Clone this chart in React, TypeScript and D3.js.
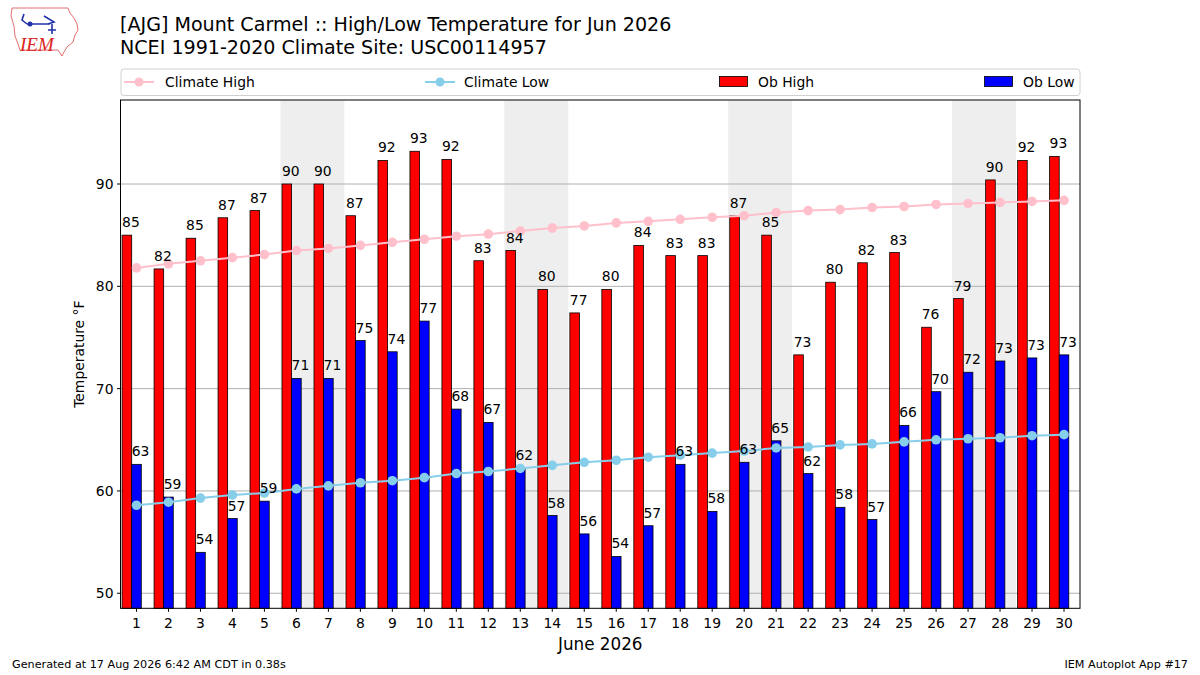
import React, { useEffect } from 'react';
import { scaleLinear, line, range } from 'd3';

const days = range(1, 31);
const obHigh = [85.0, 81.7, 84.7, 86.7, 87.4, 90.0, 90.0, 86.9, 92.3, 93.2, 92.4, 82.5, 83.5, 79.7, 77.4, 79.7, 84.0, 83.0, 83.0, 86.9, 85.0, 73.3, 80.4, 82.3, 83.3, 76.0, 78.8, 90.4, 92.3, 92.7];
const obLow = [62.6, 59.4, 54.0, 57.3, 59.0, 71.0, 71.0, 74.7, 73.6, 76.6, 68.0, 66.7, 62.2, 57.6, 55.8, 53.6, 56.6, 62.6, 58.0, 62.8, 64.9, 61.7, 58.4, 57.2, 66.4, 69.7, 71.6, 72.7, 73.0, 73.3];
const climateHigh = [81.8, 82.2, 82.5, 82.8, 83.1, 83.5, 83.7, 84.0, 84.3, 84.6, 84.9, 85.1, 85.4, 85.7, 85.9, 86.2, 86.35, 86.55, 86.75, 86.9, 87.2, 87.4, 87.5, 87.7, 87.8, 88.0, 88.1, 88.2, 88.3, 88.4];
const climateLow = [58.6, 58.9, 59.3, 59.6, 59.8, 60.2, 60.5, 60.8, 61.0, 61.3, 61.7, 61.9, 62.2, 62.5, 62.8, 63.0, 63.3, 63.5, 63.7, 63.9, 64.2, 64.3, 64.5, 64.6, 64.8, 65.0, 65.1, 65.2, 65.4, 65.5];
const saturdays = [6, 13, 20, 27];
const yTicks = [50, 60, 70, 80, 90];

const W = 1200;
const H = 675;
const left = 120.5;
const right = 1080;
const top = 100;
const bottom = 608.3;
const font = 'DejaVu Sans, sans-serif';
const fs = 13.9;

const App: React.FC = () => {
  useEffect(() => {
    document.body.style.margin = '0';
  }, []);

  const x = scaleLinear().domain([0.5, 30.5]).range([left, right]);
  const y = scaleLinear().domain([48.53, 98.21]).range([bottom, top]);
  const bw = x(0.3) - x(0);

  const lineGen = line<number>()
    .x((_, i) => x(days[i]))
    .y(d => y(d));

  return (
    <svg width={W} height={H} style={{ display: 'block', fontFamily: font }}>
      <rect width={W} height={H} fill="#fff" />

      {/* logo */}
      <g>
        <path
          d="M12,8 L68,8 L70,13 L74,18 L77,24 L78,30 L75,35 L73,42 L67,47 L64,52 L62,56 L58,50 L20,50 L18,44 L15,36 L14,26 L11,16 Z"
          fill="none" stroke="#e07070" strokeWidth={1} />
        <path d="M24,14 L22,20 L27,24 M27,24 L50,24 M44,16 L54,22 L48,24 M52,24 L52,34 M48,30 L56,30"
          fill="none" stroke="#2233aa" strokeWidth={1.6} />
        <circle cx={30} cy={24} r={2.5} fill="#2233aa" />
        <text x={20} y={51} fontFamily="Liberation Serif, serif" fontStyle="italic" fontSize={19} fill="#dd2222">IEM</text>
      </g>

      {/* titles */}
      <text x={120} y={31} fontSize={19.1} fill="#000">[AJG] Mount Carmel :: High/Low Temperature for Jun 2026</text>
      <text x={120} y={54} fontSize={19.1} fill="#000">NCEI 1991-2020 Climate Site: USC00114957</text>

      {/* legend */}
      <rect x={121} y={69} width={959} height={26.5} rx={3} fill="#fff" stroke="#d0d0d0" />
      <line x1={124} x2={154} y1={82} y2={82} stroke="pink" strokeWidth={2} />
      <circle cx={139} cy={82} r={4.5} fill="pink" />
      <text x={165} y={87} fontSize={fs}>Climate High</text>
      <line x1={425} x2={455} y1={82} y2={82} stroke="skyblue" strokeWidth={2} />
      <circle cx={440} cy={82} r={4.5} fill="skyblue" />
      <text x={464} y={87} fontSize={fs}>Climate Low</text>
      <rect x={719.5} y={76.5} width={28} height={10} fill="red" stroke="#000" strokeWidth={0.8} />
      <text x={758} y={87} fontSize={fs}>Ob High</text>
      <rect x={984.5} y={76.5} width={28} height={10} fill="blue" stroke="#000" strokeWidth={0.8} />
      <text x={1023} y={87} fontSize={fs}>Ob Low</text>

      {/* weekend shading */}
      {saturdays.map(d => (
        <rect key={d} x={x(d - 0.5)} y={top} width={x(d + 1.5) - x(d - 0.5)} height={bottom - top} fill="#eeeeee" />
      ))}

      {/* grid */}
      {yTicks.map(t => (
        <line key={t} x1={left} x2={right} y1={y(t)} y2={y(t)} stroke="#b0b0b0" strokeWidth={1} />
      ))}

      {/* bars */}
      {days.map((d, i) => (
        <g key={d}>
          <rect x={x(d - 0.45)} y={y(obHigh[i])} width={bw} height={bottom - y(obHigh[i])}
            fill="red" stroke="#000" strokeWidth={0.8} />
          <rect x={x(d - 0.15)} y={y(obLow[i])} width={bw} height={bottom - y(obLow[i])}
            fill="blue" stroke="#000" strokeWidth={0.8} />
        </g>
      ))}

      {/* climate lines */}
      <path d={lineGen(climateHigh) || ''} fill="none" stroke="pink" strokeWidth={2} />
      {climateHigh.map((v, i) => (
        <circle key={'ch' + i} cx={x(days[i])} cy={y(v)} r={4.8} fill="pink" />
      ))}
      <path d={lineGen(climateLow) || ''} fill="none" stroke="skyblue" strokeWidth={2} />
      {climateLow.map((v, i) => (
        <circle key={'cl' + i} cx={x(days[i])} cy={y(v)} r={4.8} fill="skyblue" />
      ))}

      {/* value labels */}
      {days.map((d, i) => (
        <g key={'lab' + d} fontSize={fs} fill="#000">
          <text x={x(d - 0.45)} y={y(obHigh[i]) - 8}>{Math.round(obHigh[i])}</text>
          <text x={x(d - 0.15)} y={y(obLow[i]) - 8}>{Math.round(obLow[i])}</text>
        </g>
      ))}

      {/* frame */}
      <rect x={left} y={top} width={right - left} height={bottom - top} fill="none" stroke="#000" strokeWidth={1} />

      {/* y axis */}
      {yTicks.map(t => (
        <g key={'yt' + t}>
          <line x1={left - 3.5} x2={left} y1={y(t)} y2={y(t)} stroke="#000" />
          <text x={left - 7} y={y(t) + 5} fontSize={fs} textAnchor="end">{t}</text>
        </g>
      ))}
      <text transform={`translate(84,${(top + bottom) / 2}) rotate(-90)`} fontSize={fs} textAnchor="middle">Temperature °F</text>

      {/* x axis */}
      {days.map(d => (
        <g key={'xt' + d}>
          <line x1={x(d)} x2={x(d)} y1={bottom} y2={bottom + 3.5} stroke="#000" />
          <text x={x(d)} y={bottom + 19.5} fontSize={fs} textAnchor="middle">{d}</text>
        </g>
      ))}
      <text x={(left + right) / 2} y={649.5} fontSize={16.8} textAnchor="middle">June 2026</text>

      {/* footer */}
      <text x={12} y={668} fontSize={11.2}>Generated at 17 Aug 2026 6:42 AM CDT in 0.38s</text>
      <text x={1188} y={668} fontSize={11.2} textAnchor="end">IEM Autoplot App #17</text>
    </svg>
  );
};

export default App;
